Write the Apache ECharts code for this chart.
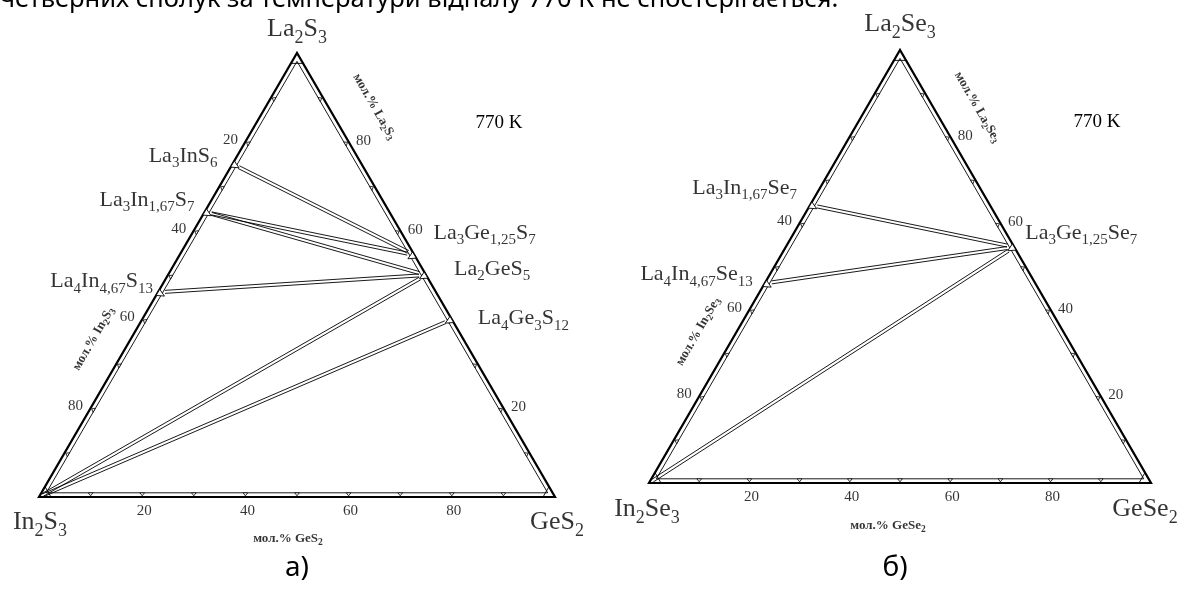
<!DOCTYPE html>
<html>
<head>
<meta charset="utf-8">
<script src="https://cdn.jsdelivr.net/npm/echarts@6.0.0/dist/echarts.min.js"></script>
<style>
html,body{margin:0;padding:0;background:#fff;}
#chart{width:1192px;height:589px;}
</style>
</head>
<body>
<div id="chart"></div>
<script>
// ---------------- data: compositions in mol.% [In2X3, GeX2, La2X3] ----------------
const verticesA = ['In2S3', 'GeS2', 'La2S3'];
const verticesB = ['In2Se3', 'GeSe2', 'La2Se3'];
const vertexComps = [[100, 0, 0], [0, 100, 0], [0, 0, 100]];

const tickSteps = [10, 20, 30, 40, 50, 60, 70, 80, 90];
const bottomTicksA = [20, 40, 60, 80];   // mol.% GeS2
const leftTicksA = [20, 40, 60, 80];     // mol.% In2S3
const rightTicksA = [20, 60, 80];        // mol.% La2S3
const bottomTicksB = [20, 40, 60, 80];   // mol.% GeSe2
const leftTicksB = [40, 60, 80];         // mol.% In2Se3
const rightTicksB = [20, 40, 60, 80];    // mol.% La2Se3

const compoundsA = ['La3InS6', 'La3In1,67S7', 'La4In4,67S13', 'La3Ge1,25S7', 'La2GeS5', 'La4Ge3S12'];
const inA = [25, 35.8, 53.9, 0, 0, 0];
const geA = [0, 0, 0, 45.5, 50, 60];
const laA = [75, 64.2, 46.1, 54.5, 50, 40];
const tiesA = [
  ['La3InS6', 'La3Ge1,25S7'],
  ['La3In1,67S7', 'La3Ge1,25S7'],
  ['La3In1,67S7', 'La2GeS5'],
  ['La4In4,67S13', 'La2GeS5'],
  ['In2S3', 'La2GeS5'],
  ['In2S3', 'La4Ge3S12']
];

const compoundsB = ['La3In1,67Se7', 'La4In4,67Se13', 'La3Ge1,25Se7'];
const inB = [35.8, 53.9, 0];
const geB = [0, 0, 45.5];
const laB = [64.2, 46.1, 54.5];
const tiesB = [
  ['La3In1,67Se7', 'La3Ge1,25Se7'],
  ['La4In4,67Se13', 'La3Ge1,25Se7'],
  ['In2Se3', 'La3Ge1,25Se7']
];

const axisTitlesA = ['мол.% In2S3', 'мол.% GeS2', 'мол.% La2S3'];
const axisTitlesB = ['мол.% In2Se3', 'мол.% GeSe2', 'мол.% La2Se3'];
const temperatureText = '770 K';
const panelNames = ['а)', 'б)'];
const captionText = 'четверних сполук за температури відпалу 770 К не спостерігається.';

// ---------------- styles / layout ----------------
const SERIF = '"Liberation Serif", "Times New Roman", serif';
const SANS = '"Noto Sans", "Open Sans", sans-serif';
const INK = '#000';
const INSET = 4.2;
const CAP = 12;
const gridBoxes = [
  {left: 39, top: 53, width: 516, height: 444},
  {left: 649, top: 50, width: 502, height: 433}
];
const vertexLabelOffsets = [
  [[1, 30], [2, 30], [0, -19]],
  [[-2, 31], [-6, 31], [0, -21]]
];
const compoundLabelStyle = {
  'La3InS6': ['left', -15, -4],
  'La3In1,67S7': ['left', -10, -8],
  'La4In4,67S13': ['left', -5, -7],
  'La3Ge1,25S7': ['right', 19, -18],
  'La2GeS5': ['right', 28, -2],
  'La4Ge3S12': ['right', 26, 3],
  'La3In1,67Se7': ['left', -13, -13],
  'La4In4,67Se13': ['left', -12, -5],
  'La3Ge1,25Se7': ['right', 11, -10]
};
// axis title anchor compositions and screen pixel offsets
const titleAnchors = [[65, 0, 35], [50, 50, 0], [0, 13, 87]];
const titleOffsets = [
  [[-34, -2], [-9, 44], [42, -3]],
  [[-37, 1], [-12, 45], [43, 2]]
];
const titleRotations = [60, 0, -60];
const tickOffsets = {left: [-15, -2], right: [15, -1], bottom: [2, 14]};

// ---------------- helpers ----------------
const SQ = Math.sqrt(3) / 2;
const toXY = (c) => [c[1] + c[2] / 2, c[2] * SQ];
function fmt(name, n, s) {
  n = n || 'n'; s = s || 's';
  return name.replace(/([^\d,]+)|([\d,]+)/g, (m, a, b) => a ? '{' + n + '|' + a + '}' : '{' + s + '|' + b + '}');
}
function richSet(F, f, pb, weight) {
  return {
    n: {fontFamily: SERIF, fontSize: F, lineHeight: F, fontWeight: weight || 'normal', color: INK, verticalAlign: 'bottom', padding: [0, 0, pb, 0]},
    s: {fontFamily: SERIF, fontSize: f, lineHeight: f, fontWeight: weight || 'normal', color: INK, verticalAlign: 'bottom'}
  };
}
const RICH_V = richSet(26, 18, 5);
const RICH_C = richSet(22, 15, 4);
const RICH_T = richSet(13, 9.5, 2, 'bold');

// label offsets are applied in the rotated frame: convert a screen offset to it
function localOffset(off, deg) {
  const t = deg * Math.PI / 180, c = Math.cos(t), s = Math.sin(t);
  return [off[0] * c - off[1] * s, off[0] * s + off[1] * c];
}

const sub = (a, b) => [a[0] - b[0], a[1] - b[1]];
const add = (a, b) => [a[0] + b[0], a[1] + b[1]];
const mul = (a, k) => [a[0] * k, a[1] * k];
const unit = (a) => { const l = Math.hypot(a[0], a[1]); return [a[0] / l, a[1] / l]; };
function inwardNormal(A, B, C) {
  const u = unit(sub(B, A));
  let n = [-u[1], u[0]];
  const t = sub(C, A);
  if (n[0] * t[0] + n[1] * t[1] < 0) n = [-n[0], -n[1]];
  return n;
}
function intersect(p1, d1, p2, d2) {
  const den = d1[0] * d2[1] - d1[1] * d2[0];
  const t = ((p2[0] - p1[0]) * d2[1] - (p2[1] - p1[1]) * d2[0]) / den;
  return add(p1, mul(d1, t));
}

const panels = [
  {vertices: verticesA, compounds: compoundsA, inp: inA, ge: geA, la: laA, ties: tiesA,
   bottom: bottomTicksA, left: leftTicksA, right: rightTicksA, titles: axisTitlesA},
  {vertices: verticesB, compounds: compoundsB, inp: inB, ge: geB, la: laB, ties: tiesB,
   bottom: bottomTicksB, left: leftTicksB, right: rightTicksB, titles: axisTitlesB}
];

function compOf(P, name) {
  const vi = P.vertices.indexOf(name);
  if (vi >= 0) return vertexComps[vi];
  const i = P.compounds.indexOf(name);
  return [P.inp[i], P.ge[i], P.la[i]];
}

function frameSeries(pi) {
  const v = vertexComps.map(toXY);
  return {
    type: 'custom', xAxisIndex: pi, yAxisIndex: pi, clip: false, z: 3, silent: true,
    data: [[v[0][0], v[0][1], v[1][0], v[1][1], v[2][0], v[2][1]]],
    encode: {x: [0, 2, 4], y: [1, 3, 5]},
    renderItem(params, api) {
      const P = [0, 1, 2].map(i => api.coord([api.value(2 * i), api.value(2 * i + 1)]));
      const C = [(P[0][0] + P[1][0] + P[2][0]) / 3, (P[0][1] + P[1][1] + P[2][1]) / 3];
      const children = [];
      children.push({type: 'polygon', shape: {points: P}, style: {fill: null, stroke: INK, lineWidth: 2.2, lineJoin: 'miter'}});
      const edges = [0, 1, 2].map(e => {
        const A = P[e], B = P[(e + 1) % 3];
        const n = inwardNormal(A, B, C);
        return {A, B, n, u: unit(sub(B, A)), p: add(A, mul(n, INSET))};
      });
      const inner = [0, 1, 2].map(i => {
        const e1 = edges[(i + 2) % 3], e2 = edges[i];
        return intersect(e1.p, e1.u, e2.p, e2.u);
      });
      children.push({type: 'polygon', shape: {points: inner}, style: {fill: null, stroke: INK, lineWidth: 0.9}});
      edges.forEach(e => {
        const L = Math.hypot(e.B[0] - e.A[0], e.B[1] - e.A[1]);
        tickSteps.forEach(t => {
          const O = add(e.A, mul(e.u, L * t / 100));
          const I = add(O, mul(e.n, INSET));
          children.push({type: 'polygon', shape: {points: [add(I, mul(e.u, -2.3)), add(O, mul(e.n, 1.2)), add(I, mul(e.u, 2.3))]},
            style: {fill: '#fff', stroke: INK, lineWidth: 0.8}});
        });
      });
      [0, 1, 2].forEach(i => {
        const V = P[i];
        const a = add(V, mul(unit(sub(P[(i + 1) % 3], V)), CAP));
        const b = add(V, mul(unit(sub(P[(i + 2) % 3], V)), CAP));
        children.push({type: 'line', shape: {x1: a[0], y1: a[1], x2: b[0], y2: b[1]}, style: {stroke: INK, lineWidth: 0.9}});
      });
      return {type: 'group', children};
    }
  };
}

function tieSeries(pi) {
  const P = panels[pi];
  return {
    type: 'custom', xAxisIndex: pi, yAxisIndex: pi, clip: false, z: 2, silent: true,
    data: P.ties.map(([a, b]) => {
      const pa = toXY(compOf(P, a)), pb = toXY(compOf(P, b));
      return [pa[0], pa[1], pb[0], pb[1], P.vertices.indexOf(a) >= 0 ? 1 : 0, P.vertices.indexOf(b) >= 0 ? 1 : 0];
    }),
    encode: {x: [0, 2], y: [1, 3]},
    renderItem(params, api) {
      const p1 = api.coord([api.value(0), api.value(1)]);
      const p2 = api.coord([api.value(2), api.value(3)]);
      const d = unit(sub(p2, p1));
      const n = [-d[1], d[0]];
      const a = add(p1, mul(d, api.value(4) ? 4 : 7));
      const b = add(p2, mul(d, api.value(5) ? -4 : -7));
      const w = 1.5;
      const mk = (s) => ({type: 'line', shape: {x1: a[0] + n[0] * s, y1: a[1] + n[1] * s, x2: b[0] + n[0] * s, y2: b[1] + n[1] * s},
        style: {stroke: INK, lineWidth: 0.9}});
      return {type: 'group', children: [mk(w), mk(-w)]};
    }
  };
}

function markerSeries(pi) {
  const P = panels[pi];
  const v = vertexComps.map(toXY);
  return {
    type: 'custom', xAxisIndex: pi, yAxisIndex: pi, clip: false, z: 4, silent: true,
    data: P.compounds.map((name, i) => {
      const c = [P.inp[i], P.ge[i], P.la[i]];
      const xy = toXY(c);
      return [xy[0], xy[1], c[0], c[1], c[2]];
    }),
    encode: {x: 0, y: 1},
    renderItem(params, api) {
      const p = api.coord([api.value(0), api.value(1)]);
      const V = v.map(q => api.coord(q));
      const C = [(V[0][0] + V[1][0] + V[2][0]) / 3, (V[0][1] + V[1][1] + V[2][1]) / 3];
      const zero = [2, 3, 4].findIndex(k => api.value(k) === 0);
      const others = [0, 1, 2].filter(k => k !== zero);
      const A = V[others[0]], B = V[others[1]];
      const u = unit(sub(B, A));
      const n = inwardNormal(A, B, C);
      const pts = [add(p, mul(u, 3.6)), add(p, mul(n, 7.5)), add(p, mul(u, -3.6))];
      return {type: 'polygon', shape: {points: pts}, style: {fill: '#fff', stroke: INK, lineWidth: 0.9}};
    }
  };
}

function labelSeries(pi) {
  const P = panels[pi];
  const data = [];
  P.compounds.forEach((name, i) => {
    const st = compoundLabelStyle[name];
    data.push({value: toXY([P.inp[i], P.ge[i], P.la[i]]),
      label: {position: st[0], distance: 0, offset: [st[1], st[2]], formatter: fmt(name), rich: RICH_C}});
  });
  P.vertices.forEach((name, i) => {
    data.push({value: toXY(vertexComps[i]),
      label: {position: 'inside', offset: vertexLabelOffsets[pi][i], formatter: fmt(name), rich: RICH_V}});
  });
  const tickLab = (c, v, off) => data.push({value: toXY(c),
    label: {position: 'inside', offset: off, formatter: String(v), fontFamily: SERIF, fontSize: 15, color: INK}});
  P.left.forEach(v => tickLab([v, 0, 100 - v], v, tickOffsets.left));
  P.right.forEach(v => tickLab([0, 100 - v, v], v, tickOffsets.right));
  P.bottom.forEach(v => tickLab([100 - v, v, 0], v, tickOffsets.bottom));
  P.titles.forEach((t, i) => {
    const r = titleRotations[i];
    data.push({value: toXY(titleAnchors[i]),
      label: {position: 'inside', offset: localOffset(titleOffsets[pi][i], r), rotate: r, formatter: fmt(t), rich: RICH_T}});
  });
  return {
    type: 'scatter', xAxisIndex: pi, yAxisIndex: pi, clip: false, z: 5, silent: true,
    symbol: 'circle', symbolSize: 0.1, itemStyle: {color: 'rgba(0,0,0,0)'},
    label: {show: true, color: INK},
    data
  };
}

const chart = echarts.init(document.getElementById('chart'), null, {renderer: 'canvas'});
const series = [];
[0, 1].forEach(pi => {
  series.push(tieSeries(pi), frameSeries(pi), markerSeries(pi), labelSeries(pi));
});

chart.setOption({
  animation: false,
  backgroundColor: '#fff',
  grid: gridBoxes.map(g => Object.assign({containLabel: false}, g)),
  xAxis: [0, 1].map(i => ({type: 'value', gridIndex: i, min: 0, max: 100, show: false})),
  yAxis: [0, 1].map(i => ({type: 'value', gridIndex: i, min: 0, max: 100 * SQ, show: false})),
  graphic: [
    {type: 'text', left: 0, top: -13, style: {text: captionText, font: '25.5px ' + SANS, fill: INK}},
    {type: 'text', x: 499, y: 123, style: {text: temperatureText, font: '19px ' + SERIF, fill: INK, align: 'center', verticalAlign: 'middle'}},
    {type: 'text', x: 1097, y: 122, style: {text: temperatureText, font: '19px ' + SERIF, fill: INK, align: 'center', verticalAlign: 'middle'}},
    {type: 'text', x: 297, y: 568, style: {text: panelNames[0], font: '28px ' + SANS, fill: INK, align: 'center', verticalAlign: 'middle'}},
    {type: 'text', x: 895, y: 568, style: {text: panelNames[1], font: '28px ' + SANS, fill: INK, align: 'center', verticalAlign: 'middle'}}
  ],
  series
});
</script>
</body>
</html>
